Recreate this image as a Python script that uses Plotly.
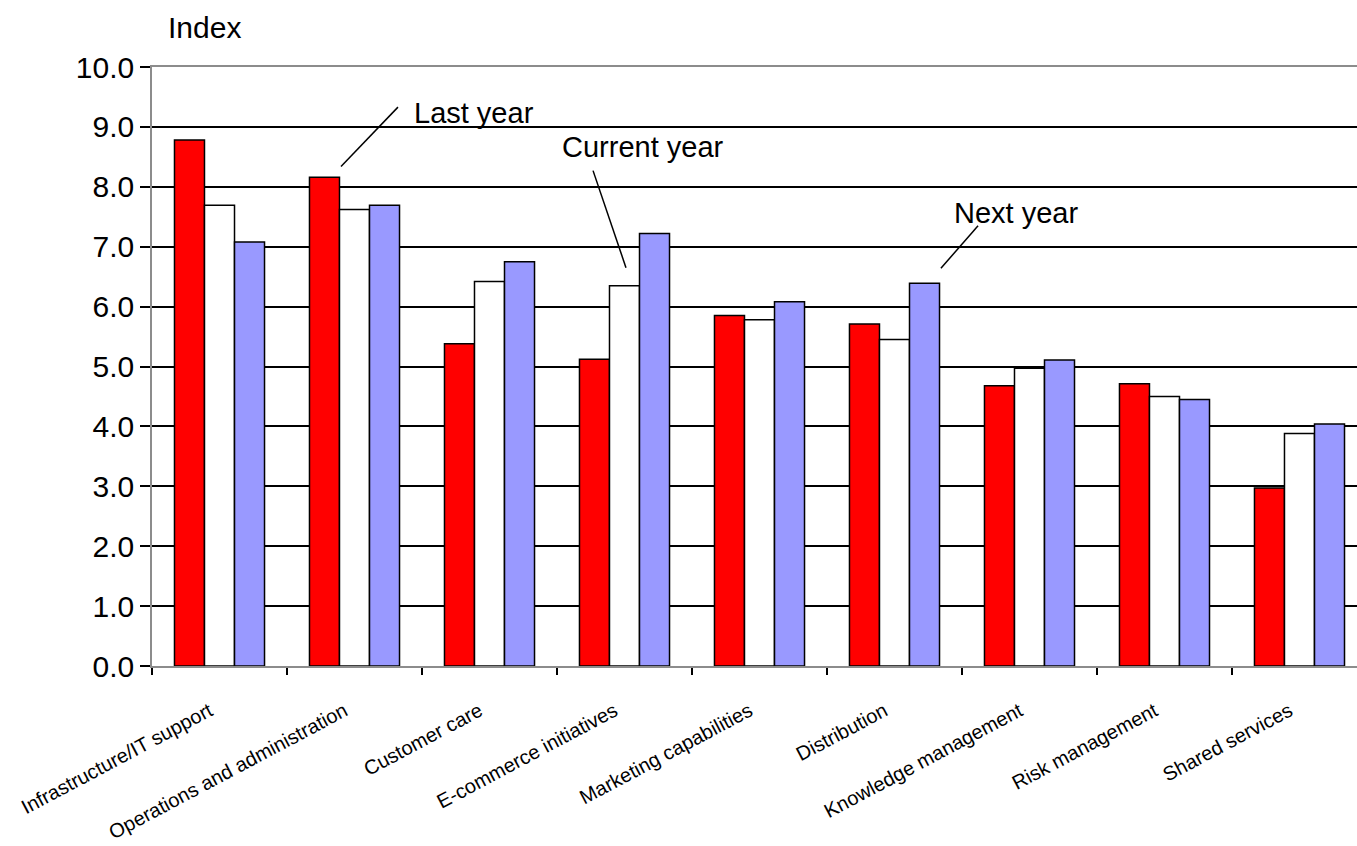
import plotly.graph_objects as go

# Categories and index values per period
categories = [
    "Infrastructure/IT support",
    "Operations and administration",
    "Customer care",
    "E-commerce initiatives",
    "Marketing capabilities",
    "Distribution",
    "Knowledge management",
    "Risk management",
    "Shared services",
]
last_year = [8.78, 8.16, 5.38, 5.12, 5.85, 5.71, 4.68, 4.71, 2.97]
current_year = [7.69, 7.62, 6.42, 6.35, 5.78, 5.45, 4.97, 4.50, 3.88]
next_year = [7.08, 7.69, 6.75, 7.22, 6.08, 6.39, 5.11, 4.45, 4.04]
y_ticks = [0, 1, 2, 3, 4, 5, 6, 7, 8, 9, 10]

FONT = "Liberation Sans, Arial, sans-serif"
outline = dict(color="#000000", width=1.5)

fig = go.Figure()
for name, vals, color in [
    ("Last year", last_year, "#FF0000"),
    ("Current year", current_year, "#FFFFFF"),
    ("Next year", next_year, "#9999FF"),
]:
    fig.add_trace(go.Bar(
        x=categories, y=vals, name=name,
        marker=dict(color=color, line=outline),
        showlegend=False,
    ))

# Callout labels with leader lines (category axis uses index positions)
callouts = [
    # text, text x, text y, line x0, y0, x1, y1
    ("Last year", 1.426, 9.24, 0.90, 8.34, 1.322, 9.33),
    ("Current year", 2.520, 8.66, 2.767, 8.27, 3.011, 6.65),
    ("Next year", 5.425, 7.57, 5.619, 7.35, 5.344, 6.64),
]
for text, tx, ty, x0, y0, x1, y1 in callouts:
    fig.add_annotation(
        x=tx, y=ty, xref="x", yref="y", text=text, showarrow=False,
        xanchor="left", yanchor="middle",
        font=dict(family=FONT, size=29, color="#000000"),
    )
    fig.add_shape(
        type="line", xref="x", yref="y", x0=x0, y0=y0, x1=x1, y1=y1,
        line=dict(color="#000000", width=1.5),
    )

# Axis title placed above the value axis
fig.add_annotation(
    x=0.0116, y=1.066, xref="paper", yref="paper", text="Index",
    showarrow=False, xanchor="left", yanchor="middle",
    font=dict(family=FONT, size=30, color="#000000"),
)

fig.update_layout(
    width=1357, height=846,
    margin=dict(l=152, r=0, t=67, b=180, pad=0, autoexpand=False),
    paper_bgcolor="#FFFFFF", plot_bgcolor="#FFFFFF",
    barmode="group", bargap=0.333, bargroupgap=0,
    font=dict(family=FONT, color="#000000"),
)
fig.update_xaxes(
    range=[-0.5, 8.426], automargin=False,
    showline=True, linecolor="#8C8C8C", linewidth=1.5, mirror=True,
    showgrid=False, ticks="outside", ticklen=7, tickwidth=1.5,
    tickcolor="#000000", tickson="boundaries",
    tickangle=-28, tickfont=dict(family=FONT, size=20, color="#000000"),
    ticklabelstandoff=24, ticklabelshift=-10,
)
fig.update_yaxes(
    range=[0, 10], tickvals=y_ticks, automargin=False,
    ticktext=[f"{v:.1f}" for v in y_ticks],
    showline=True, linecolor="#8C8C8C", linewidth=1.5,
    showgrid=True, gridcolor="#000000", gridwidth=1.5,
    zeroline=False, ticks="outside", ticklen=10, tickwidth=1.5,
    tickcolor="#000000",
    tickfont=dict(family=FONT, size=30, color="#000000"),
)

fig.write_html("out.html")
